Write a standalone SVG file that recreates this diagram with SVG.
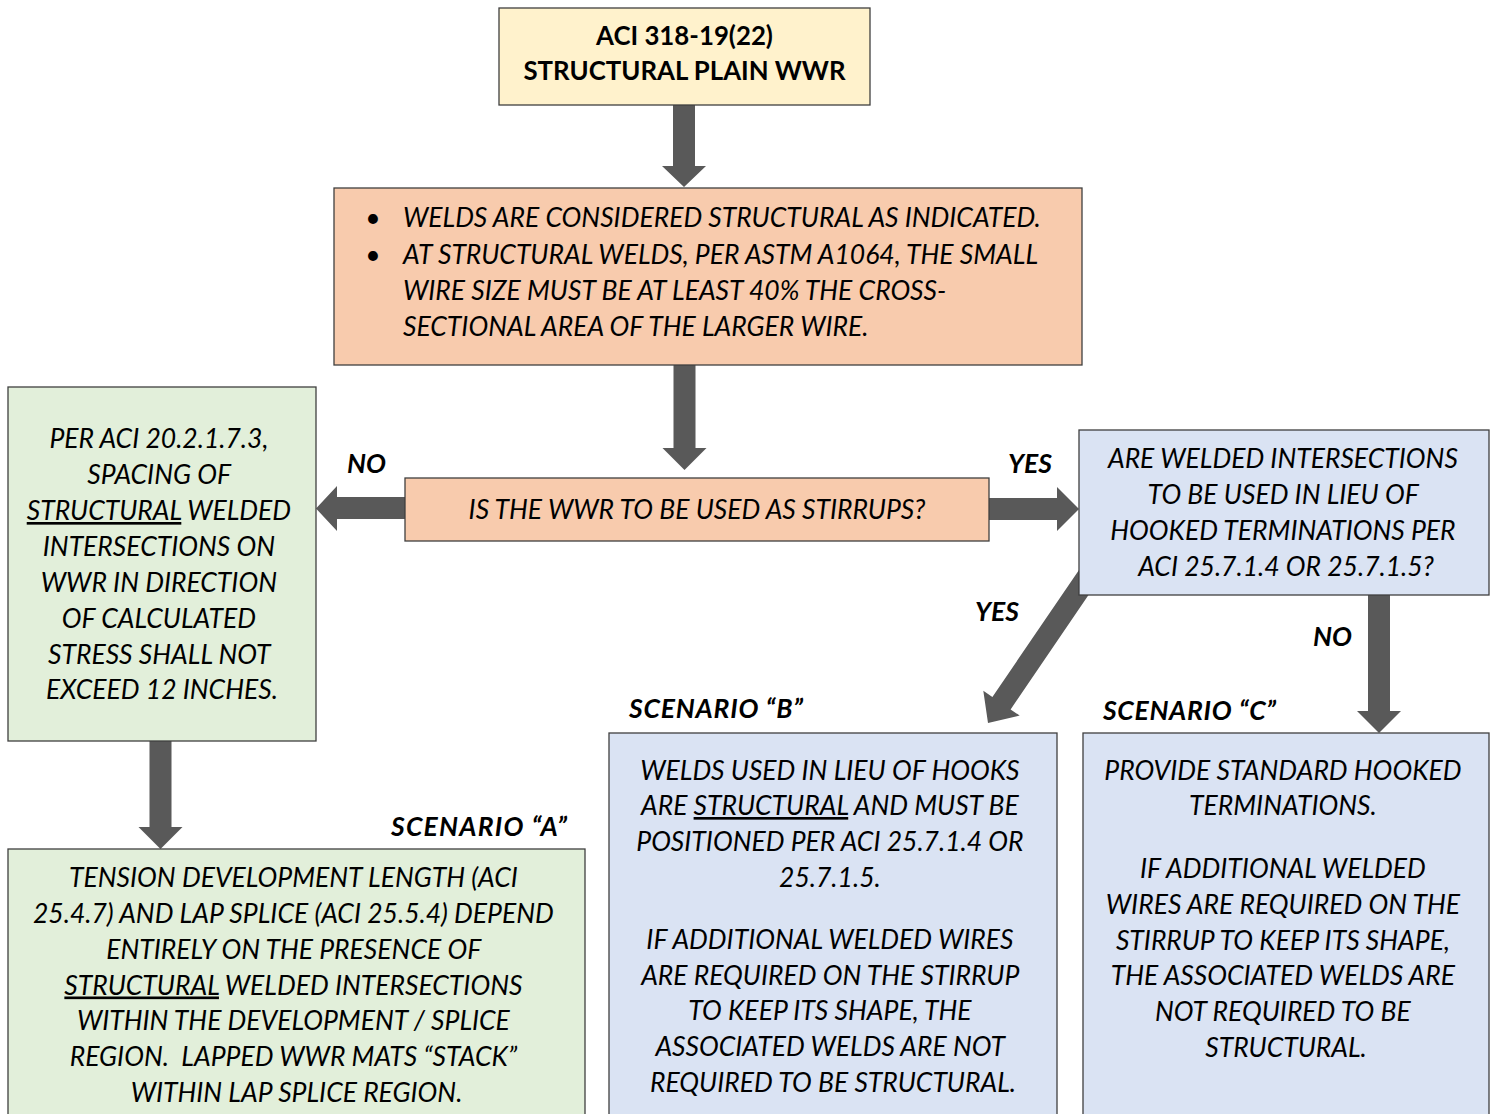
<svg xmlns="http://www.w3.org/2000/svg" width="1492" height="1114" viewBox="0 0 1492 1114">
<style>
.box{stroke:#3f3f3f;stroke-width:1.3}
.yel{fill:#FFF2CC}
.org{fill:#F8CBAD}
.grn{fill:#E2EFDA}
.blu{fill:#DAE3F3}
.arr{fill:#595959}
text{font-family:"Lato","Carlito","Liberation Sans",sans-serif;font-size:26.5px;fill:#000}
.it{font-style:italic}
.bd{font-weight:bold;font-size:25.8px}
.bi{font-style:italic;font-weight:bold}
.c{text-anchor:middle}
.u{text-decoration:underline}
</style>
<rect width="1492" height="1114" fill="#ffffff"/>
<g id="connectors">
<polygon class="arr" points="673,105 695,105 695,166 706,166 684,187 662,166 673,166"/>
<polygon class="arr" points="673.5,365 695.5,365 695.5,448 706.5,448 684.5,470 662.5,448 673.5,448"/>
<polygon class="arr" points="405,497 337,497 337,486 316,508.5 337,531 337,519 405,519"/>
<polygon class="arr" points="989,498 1057,498 1057,487 1079,509 1057,531 1057,520 989,520"/>
<polygon class="arr" points="149.5,741 171.5,741 171.5,827 182.5,827 160.5,849 138.5,827 149.5,827"/>
<polygon class="arr" points="1368,595 1390,595 1390,711 1401,711 1379,733 1357,711 1368,711"/>
<polygon class="arr" points="1080.7,567.4 1098.9,579.8 1010.6,709.4 1019.7,715.6 988,723 983.3,690.8 992.4,697"/>
</g>
<g id="n-title">
<rect class="box yel" x="499" y="8" width="371" height="97"/>
<text class="bd c" x="684.5" y="45">ACI 318-19(22)</text>
<text class="bd c" x="684.5" y="80">STRUCTURAL PLAIN WWR</text>
</g>
<g id="n-welds">
<rect class="box org" x="334" y="188" width="748" height="177"/>
<text x="373" y="227" class="c">•</text>
<text x="373" y="264" class="c">•</text>
<text class="it" x="403" y="227">WELDS ARE CONSIDERED STRUCTURAL AS INDICATED.</text>
<text class="it" x="403" y="264">AT STRUCTURAL WELDS, PER ASTM A1064, THE SMALL</text>
<text class="it" x="403" y="300">WIRE SIZE MUST BE AT LEAST 40% THE CROSS-</text>
<text class="it" x="403" y="335.5">SECTIONAL AREA OF THE LARGER WIRE.</text>
</g>
<g id="n-question">
<rect class="box org" x="405" y="478" width="584" height="63"/>
<text class="it c" x="697" y="519">IS THE WWR TO BE USED AS STIRRUPS?</text>
</g>
<g id="n-spacing">
<rect class="box grn" x="8" y="387" width="308" height="354"/>
<text class="it c" x="162">
<tspan x="162" y="448">PER ACI 20.2.1.7.3,</tspan>
<tspan x="162" y="484">SPACING OF</tspan>
<tspan x="162" y="520"><tspan class="u">STRUCTURAL</tspan> WELDED</tspan>
<tspan x="162" y="556">INTERSECTIONS ON</tspan>
<tspan x="162" y="592">WWR IN DIRECTION</tspan>
<tspan x="162" y="628">OF CALCULATED</tspan>
<tspan x="162" y="663.5">STRESS SHALL NOT</tspan>
<tspan x="162" y="699">EXCEED 12 INCHES.</tspan>
</text>
</g>
<g id="n-hooks">
<rect class="box blu" x="1079" y="430" width="410" height="165"/>
<text class="it c" x="1286">
<tspan x="1286" y="468">ARE WELDED INTERSECTIONS</tspan>
<tspan x="1286" y="504">TO BE USED IN LIEU OF</tspan>
<tspan x="1286" y="540">HOOKED TERMINATIONS PER</tspan>
<tspan x="1286" y="576">ACI 25.7.1.4 OR 25.7.1.5?</tspan>
</text>
</g>
<g id="n-scenario-a">
<rect class="box grn" x="8" y="849" width="577" height="275"/>
<text class="it c" x="296.5">
<tspan x="296.5" y="887">TENSION DEVELOPMENT LENGTH (ACI</tspan>
<tspan x="296.5" y="923">25.4.7) AND LAP SPLICE (ACI 25.5.4) DEPEND</tspan>
<tspan x="296.5" y="958.5">ENTIRELY ON THE PRESENCE OF</tspan>
<tspan x="296.5" y="994.5"><tspan class="u">STRUCTURAL</tspan> WELDED INTERSECTIONS</tspan>
<tspan x="296.5" y="1030">WITHIN THE DEVELOPMENT / SPLICE</tspan>
<tspan x="296.5" y="1066">REGION.&#160; LAPPED WWR MATS “STACK”</tspan>
<tspan x="296.5" y="1101.5">WITHIN LAP SPLICE REGION.</tspan>
</text>
</g>
<g id="n-scenario-b">
<rect class="box blu" x="609" y="733" width="448" height="391"/>
<text class="it c" x="833">
<tspan x="833" y="779.5">WELDS USED IN LIEU OF HOOKS</tspan>
<tspan x="833" y="815">ARE <tspan class="u">STRUCTURAL</tspan> AND MUST BE</tspan>
<tspan x="833" y="851">POSITIONED PER ACI 25.7.1.4 OR</tspan>
<tspan x="833" y="887">25.7.1.5.</tspan>
<tspan x="833" y="948.5">IF ADDITIONAL WELDED WIRES</tspan>
<tspan x="833" y="984.5">ARE REQUIRED ON THE STIRRUP</tspan>
<tspan x="833" y="1020">TO KEEP ITS SHAPE, THE</tspan>
<tspan x="833" y="1056">ASSOCIATED WELDS ARE NOT</tspan>
<tspan x="833" y="1092">REQUIRED TO BE STRUCTURAL.</tspan>
</text>
</g>
<g id="n-scenario-c">
<rect class="box blu" x="1083" y="733" width="406" height="391"/>
<text class="it c" x="1286">
<tspan x="1286" y="779.5">PROVIDE STANDARD HOOKED</tspan>
<tspan x="1286" y="815">TERMINATIONS.</tspan>
<tspan x="1286" y="877.5">IF ADDITIONAL WELDED</tspan>
<tspan x="1286" y="913.5">WIRES ARE REQUIRED ON THE</tspan>
<tspan x="1286" y="949.5">STIRRUP TO KEEP ITS SHAPE,</tspan>
<tspan x="1286" y="985">THE ASSOCIATED WELDS ARE</tspan>
<tspan x="1286" y="1021">NOT REQUIRED TO BE</tspan>
<tspan x="1286" y="1056.5">STRUCTURAL.</tspan>
</text>
</g>
<g id="labels">
<text class="bi" x="347" y="473">NO</text>
<text class="bi" x="1008" y="473">YES</text>
<text class="bi" x="975" y="621">YES</text>
<text class="bi" x="1313" y="646">NO</text>
<text class="bi" x="629" y="718" textLength="174" lengthAdjust="spacing">SCENARIO “B”</text>
<text class="bi" x="1103" y="720" textLength="173" lengthAdjust="spacing">SCENARIO “C”</text>
<text class="bi" x="391" y="836" textLength="176" lengthAdjust="spacing">SCENARIO “A”</text>
</g>
</svg>
